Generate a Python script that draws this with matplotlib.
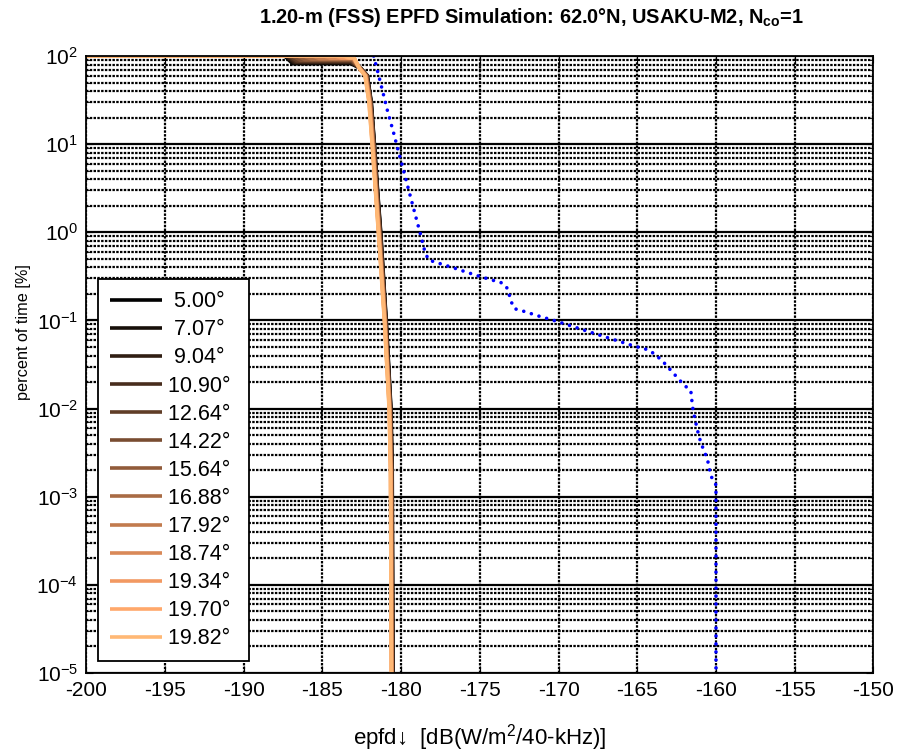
import matplotlib
matplotlib.use('Agg')
import matplotlib.pyplot as plt
import numpy as np
from matplotlib.ticker import LogLocator, NullFormatter, MultipleLocator

plt.rcParams['font.family'] = ['Liberation Sans', 'DejaVu Sans']
plt.rcParams['mathtext.fontset'] = 'custom'
plt.rcParams['mathtext.rm'] = 'Liberation Sans'
plt.rcParams['mathtext.it'] = 'Liberation Sans:italic'
plt.rcParams['mathtext.bf'] = 'Liberation Sans:bold'
plt.rcParams['axes.unicode_minus'] = False

# elevaciones (leyenda)
elevaciones = ['5.00', '7.07', '9.04', '10.90', '12.64', '14.22', '15.64',
               '16.88', '17.92', '18.74', '19.34', '19.70', '19.82']

# cabeza de cada curva: inicio de la caida, meseta, fin de la meseta
x_inicio = [-187.4, -187.35, -187.3, -187.2, -187.1, -186.9, -186.6,
            -186.2, -185.6, -184.9, -184.2, -183.7, -183.6]
x_meseta = [-186.9, -186.85, -186.8, -186.7, -186.6, -186.4, -186.1,
            -185.7, -185.2, -184.5, -183.8, -183.4, -183.3]
pct_meseta = [82, 83.5, 85, 86.5, 88, 89.5, 91, 92.5, 93.5, 94.5, 95, 95.5, 96]
x_fin = [-183.2, -183.2, -183.2, -183.2, -183.15, -183.15, -183.1,
         -183.1, -183.05, -183.05, -183.0, -183.0, -183.0]

# cola comun en porcentaje, x de cada curva
pct_cola = [72, 60, 30, 10, 3, 1, 0.1, 0.01, 0.002, 1e-5]
x_cola = [
    [-182.55, -182.15, -181.90, -181.70, -181.50, -181.30, -180.95, -180.65, -180.57, -180.52],
    [-182.56, -182.16, -181.91, -181.71, -181.51, -181.31, -180.96, -180.66, -180.58, -180.53],
    [-182.57, -182.17, -181.92, -181.72, -181.52, -181.32, -180.97, -180.67, -180.59, -180.54],
    [-182.57, -182.18, -181.93, -181.73, -181.53, -181.33, -180.98, -180.68, -180.60, -180.55],
    [-182.58, -182.19, -181.94, -181.74, -181.54, -181.35, -180.99, -180.69, -180.61, -180.56],
    [-182.59, -182.20, -181.95, -181.75, -181.56, -181.36, -181.00, -180.70, -180.62, -180.57],
    [-182.60, -182.21, -181.96, -181.77, -181.57, -181.38, -181.01, -180.71, -180.63, -180.58],
    [-182.61, -182.23, -181.98, -181.78, -181.58, -181.39, -181.02, -180.72, -180.64, -180.59],
    [-182.62, -182.24, -181.99, -181.80, -181.60, -181.41, -181.03, -180.73, -180.65, -180.60],
    [-182.63, -182.26, -182.01, -181.81, -181.61, -181.42, -181.04, -180.74, -180.66, -180.61],
    [-182.64, -182.27, -182.02, -181.83, -181.62, -181.43, -181.05, -180.75, -180.67, -180.62],
    [-182.65, -182.29, -182.04, -181.84, -181.63, -181.44, -181.06, -180.76, -180.68, -180.62],
    [-182.65, -182.30, -182.05, -181.85, -181.64, -181.45, -181.07, -180.77, -180.68, -180.63],
]

# curva limite (azul punteada)
x_limite = [-181.75, -181.53, -181.15, -180.90, -180.48, -180.20, -179.94, -179.52,
            -179.27, -178.99, -178.73, -178.61, -178.46, -178.25, -177.72, -176.76,
            -175.28, -174.22, -173.69, -173.33, -173.16, -173.01, -172.80, -172.27,
            -171.25, -170.24, -169.24, -167.75, -166.27, -165.21, -164.26, -163.83,
            -163.40, -162.73, -162.03, -161.60, -161.49, -161.39, -161.18, -161.03,
            -160.86, -160.54, -160.44, -160.33, -160.00, -160.00]
y_limite = [100, 70.7, 38, 25, 13.4, 8.6, 5.8, 3.0,
            2.04, 1.32, 0.89, 0.718, 0.578, 0.485, 0.452, 0.40,
            0.327, 0.287, 0.271, 0.246, 0.203, 0.163, 0.136, 0.128,
            0.112, 0.0993, 0.0871, 0.0714, 0.0589, 0.0513, 0.0462, 0.0405,
            0.0347, 0.0255, 0.0185, 0.0160, 0.0105, 0.00845, 0.00571, 0.00452,
            0.00369, 0.00265, 0.00215, 0.00173, 0.00136, 1e-5]

fig = plt.figure(figsize=(8.99, 7.53), dpi=100)
ax = fig.add_axes([0.0961, 0.1062, 0.8754, 0.8194])

colores = plt.cm.copper(np.linspace(0, 0.92, len(elevaciones)))
for i, elev in enumerate(elevaciones):
    xs = [-200, x_inicio[i], x_meseta[i], x_fin[i]] + x_cola[i]
    ys = [100, 100, pct_meseta[i], pct_meseta[i]] + pct_cola
    etiqueta = (' ' if len(elev) < 5 else '') + elev + '\u00b0 '
    ax.plot(xs, ys, color=colores[i], lw=2.6, label=etiqueta, solid_capstyle='butt')

ax.plot(x_limite, y_limite, color=(0, 0, 1), lw=2.6, linestyle=(0, (0.01, 2.2)),
        dash_capstyle='round')

ax.set_yscale('log')
ax.set_xlim(-200, -150)
ax.set_ylim(1e-5, 1e2)
ax.xaxis.set_major_locator(MultipleLocator(5))
ax.yaxis.set_major_locator(LogLocator(base=10, numticks=20))
ax.yaxis.set_minor_locator(LogLocator(base=10, subs=np.arange(2, 10), numticks=20))
ax.yaxis.set_minor_formatter(NullFormatter())

punteado = (0, (1.1, 0.6))
ax.grid(True, which='major', axis='x', color='black', lw=1.6, linestyle=punteado)
ax.grid(True, which='major', axis='y', color='black', lw=1.6, linestyle='-')
ax.grid(True, which='minor', axis='y', color='black', lw=1.6, linestyle=punteado)
ax.set_axisbelow(True)

ax.tick_params(which='both', direction='in', top=True, right=True, labelsize=15, pad=6)
ax.tick_params(which='major', length=5)
ax.tick_params(which='minor', length=3)
for s in ax.spines.values():
    s.set_linewidth(1.3)

ax.set_title('1.20-m (FSS) EPFD Simulation: 62.0\u00b0N, USAKU-M2, N$_\\mathbf{co}$=1',
             fontsize=14.4, fontweight='bold', pad=24, x=0.565)
ax.set_ylabel('percent of time [%]', fontsize=11.7)
ax.yaxis.set_label_coords(-0.07, 0.553)
ax.set_xlabel('epfd\u2193  [dB(W/m$^2$/40-kHz)]', fontsize=16, labelpad=16)

leg = ax.legend(loc='lower left', bbox_to_anchor=(0.015, 0.019), borderaxespad=0,
                fontsize=15.5, handlelength=2.4, handletextpad=0.3, labelspacing=0.33,
                borderpad=0.55, fancybox=False, framealpha=1, edgecolor='black')
leg.get_frame().set_linewidth(1.3)

fig.savefig('out.png', dpi=100)
